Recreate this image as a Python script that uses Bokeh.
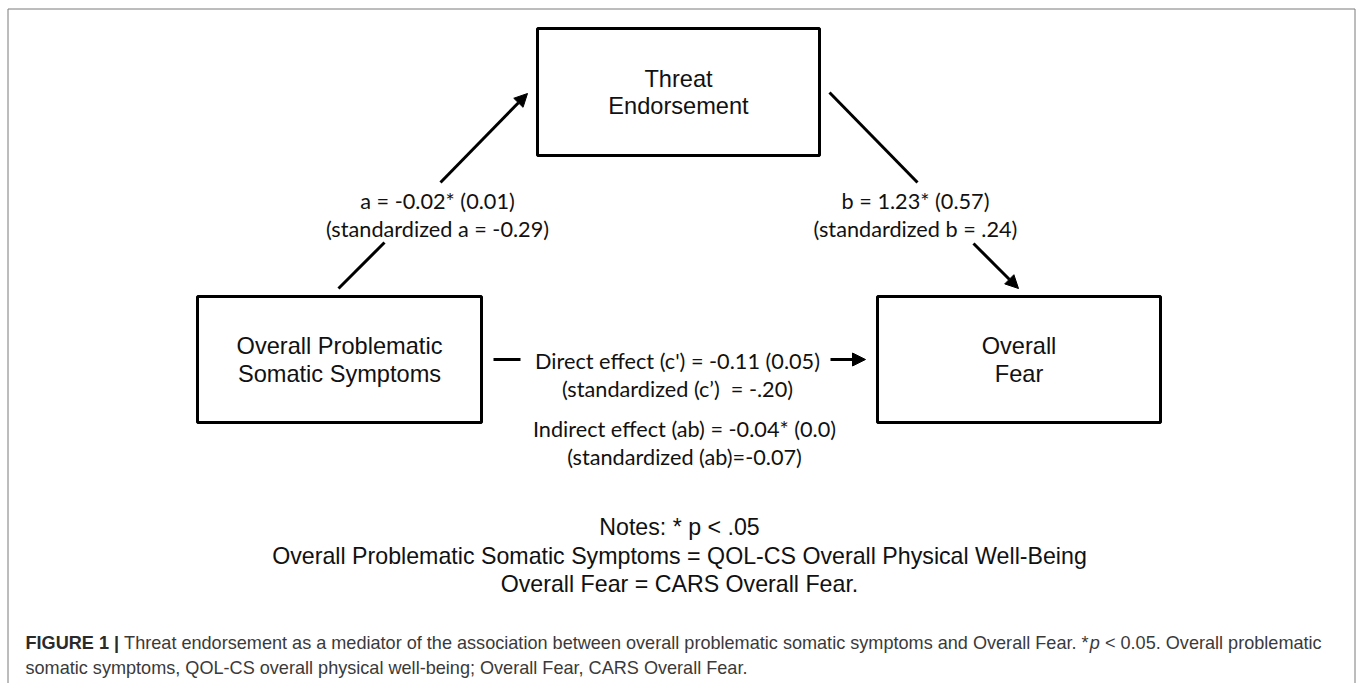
from bokeh.plotting import figure
from bokeh.models import Range1d, Arrow, NormalHead
from bokeh.core.properties import value
from bokeh.embed import file_html
from bokeh.resources import INLINE

# ---------------- data ----------------
node_line1 = ["Threat", "Overall Problematic", "Overall"]
node_line2 = ["Endorsement", "Somatic Symptoms", "Fear"]

path_est = ["-0.02*", "1.23*", "-0.11", "-0.04*"]
path_se = ["0.01", "0.57", "0.05", "0.0"]
path_std = ["-0.29", ".24", "-.20", "-0.07"]

notes_lines = [
    "Notes: * p < .05",
    "Overall Problematic Somatic Symptoms = QOL-CS Overall Physical Well-Being",
    "Overall Fear = CARS Overall Fear.",
]
caption_bold = "FIGURE 1 |"
caption_l1a = "Threat endorsement as a mediator of the association between overall problematic somatic symptoms and Overall Fear. *"
caption_l1b = "p"
caption_l1c = "< 0.05. Overall problematic"
caption_l2 = "somatic symptoms, QOL-CS overall physical well-being; Overall Fear, CARS Overall Fear."

# ---------------- layout (screen pixels) ----------------
W, H = 1357, 683
p = figure(width=W, height=H, x_range=Range1d(0, W), y_range=Range1d(H, 0),
           output_backend="svg", toolbar_location=None, min_border=0,
           x_axis_type=None, y_axis_type=None)
p.grid.visible = False
p.outline_line_color = None
p.background_fill_color = "white"
p.border_fill_color = "white"

# outer frame (left, top, right)
p.line(x=[7.5, 7.5, 1354.5, 1354.5], y=[690, 8.5, 8.5, 690], line_color="#7a7a7a", line_width=1)

box_l = [537, 197, 877]
box_r = [819, 481, 1160]
box_t = [28, 296, 296]
box_b = [155, 422, 422]
p.quad(left=box_l, right=box_r, top=box_t, bottom=box_b, fill_color=None,
       line_color="black", line_width=3)

cx = [(l + r) / 2 for l, r in zip(box_l, box_r)]
cy = [(t + b) / 2 for t, b in zip(box_t, box_b)]
box_font = value("Liberation Sans")
p.text(x=cx, y=[c - 13.5 for c in cy], text=node_line1, text_font=box_font, text_font_size="23.6px",
       text_align="center", text_baseline="middle", text_color="#111111")
p.text(x=cx, y=[c + 14 for c in cy], text=node_line2, text_font=box_font, text_font_size="23.6px",
       text_align="center", text_baseline="middle", text_color="#111111")

# path segments
head = dict(size=13, fill_color="black", line_color="black", line_width=1)
segs = [((338, 288), (384, 242)), ((829, 92), (917, 182)), ((493, 359), (520, 359))]
for (x0, y0), (x1, y1) in segs:
    p.line(x=[x0, x1], y=[y0, y1], line_color="black", line_width=3)
arrows = [((440, 182), (527, 93)), ((973, 243), (1018, 288)), ((830, 359), (865, 359))]
for (x0, y0), (x1, y1) in arrows:
    p.add_layout(Arrow(end=NormalHead(**head), x_start=x0, y_start=y0, x_end=x1, y_end=y1,
                       line_color="black", line_width=3))

lab_font = value("Lato")
lab1 = [
    f"a = {path_est[0]} ({path_se[0]})",
    f"b = {path_est[1]} ({path_se[1]})",
    f"Direct effect (c') = {path_est[2]} ({path_se[2]})",
    f"Indirect effect (ab) = {path_est[3]} ({path_se[3]})",
]
lab2 = [
    f"(standardized a = {path_std[0]})",
    f"(standardized b = {path_std[1]})",
    f"(standardized (c\u2019)\u00a0 = {path_std[2]})",
    f"(standardized (ab)={path_std[3]})",
]
lab_x = [437, 915, 677, 684]
lab_y1 = [200, 200, 360, 428]
p.text(x=lab_x, y=lab_y1, text=lab1, text_font=lab_font, text_font_size="21.7px",
       text_align="center", text_baseline="middle", text_color="#111111")
p.text(x=lab_x, y=[y + 28.5 for y in lab_y1], text=lab2, text_font=lab_font, text_font_size="21.7px",
       text_align="center", text_baseline="middle", text_color="#111111")

# notes
p.text(x=[679] * 3, y=[526, 555, 583], text=notes_lines, text_font=box_font, text_font_size="23.2px",
       text_align="center", text_baseline="middle", text_color="#111111")

# caption (Arial metrics, 1/1000 em) to place the italic p
ARIAL = {" ": 278, "*": 389, ",": 278, "-": 333, ".": 278, ";": 278, "<": 584, "|": 260}
for ch in "0123456789":
    ARIAL[ch] = 556
for ch, w in zip("ABCDEFGHIJKLMNOPQRSTUVWXYZ",
                 [667, 667, 722, 722, 667, 611, 778, 722, 278, 500, 667, 556, 833, 722, 778, 667, 778,
                  722, 667, 611, 722, 667, 944, 667, 667, 611]):
    ARIAL[ch] = w
for ch, w in zip("abcdefghijklmnopqrstuvwxyz",
                 [556, 556, 500, 556, 556, 278, 556, 556, 222, 222, 500, 222, 833, 556, 556, 556, 556,
                  333, 500, 278, 556, 500, 722, 500, 500, 500]):
    ARIAL[ch] = w


def tw(s, size):
    return sum(ARIAL.get(c, 556) for c in s) * size / 1000.0


cap_size = 18.1
cap_col = "#3a3a3a"
x0 = 25
bold_w = (611 + 278 + 778 + 722 + 722 + 667 + 278 + 556 + 278 + 280) * cap_size / 1000.0
xa = x0 + bold_w + 278 * cap_size / 1000.0
xb = xa + tw(caption_l1a, cap_size)
xc = xb + tw(caption_l1b, cap_size) + tw(" ", cap_size)
cap_font = value("Liberation Sans")
y1, y2 = 642, 667
p.text(x=[x0], y=[y1], text=[caption_bold], text_font=cap_font, text_font_size=f"{cap_size}px",
       text_font_style="bold", text_align="left", text_baseline="middle", text_color="#2a2a2a")
p.text(x=[xa, xc, x0], y=[y1, y1, y2], text=[caption_l1a, caption_l1c, caption_l2], text_font=cap_font,
       text_font_size=f"{cap_size}px", text_align="left", text_baseline="middle", text_color=cap_col)
p.text(x=[xb], y=[y1], text=[caption_l1b], text_font=cap_font, text_font_size=f"{cap_size}px",
       text_font_style="italic", text_align="left", text_baseline="middle", text_color=cap_col)

open("out.html", "w").write(file_html(p, INLINE))
